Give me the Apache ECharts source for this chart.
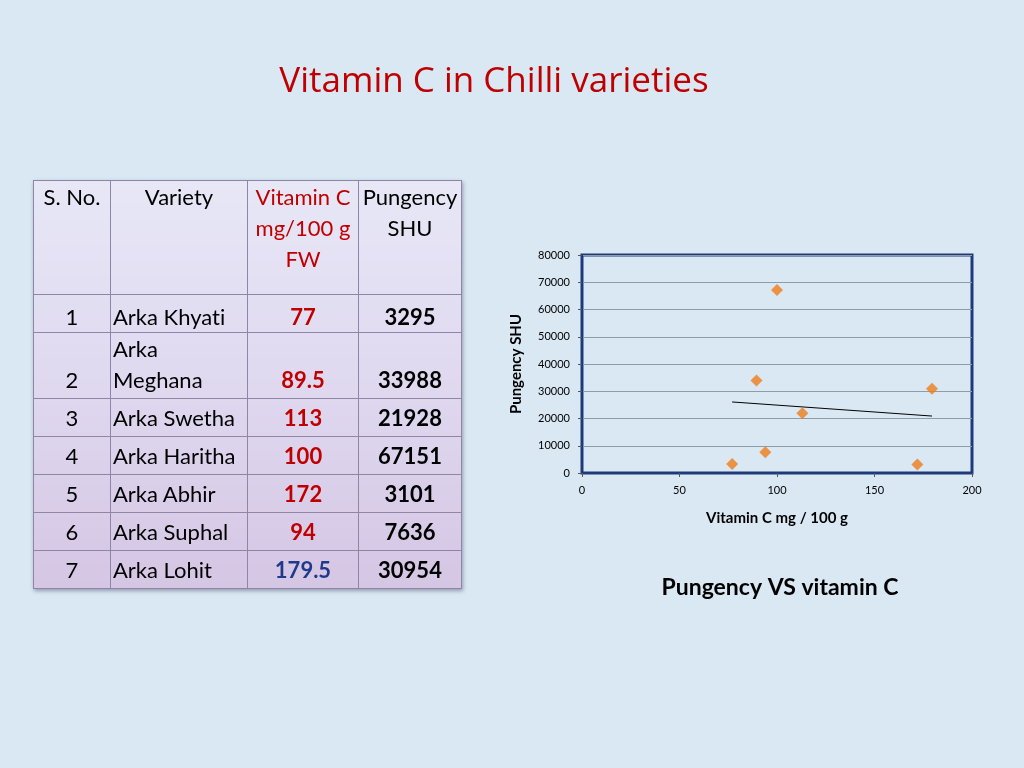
<!DOCTYPE html>
<html>
<head>
<meta charset="utf-8">
<script src="https://cdn.jsdelivr.net/npm/echarts@6/dist/echarts.min.js"></script>
<style>
  html, body { margin: 0; padding: 0; background: #DAE8F4; }
  #chart { position: absolute; left: 0; top: 0; width: 1024px; height: 768px; }
  #tbl {
    position: absolute; left: 33px; top: 180px; border-collapse: collapse;
    font-family: Lato, "Open Sans", sans-serif; font-size: 22px; color: #000;
    font-variant-ligatures: none; font-feature-settings: "liga" 0, "clig" 0;
    background: linear-gradient(to bottom, #E7E7F6 0%, #E0DAF0 45%, #D5C6E4 100%);
    box-shadow: 1px 2px 4px rgba(60,60,90,0.45);
  }
  #tbl td { border: 1.5px solid #8E86A6; padding: 0 2px 3px 2px; vertical-align: bottom; line-height: 31px; }
  #tbl tr.hdr td { vertical-align: top; padding-top: 0px; text-align: center; }
  #tbl tr.r1 td { padding-bottom: 0; }
  .c0 { text-align: center; }
  .c1 { text-align: left; }
  .c2 { text-align: center; font-weight: bold; color: #C00000; }
  .c3 { text-align: center; font-weight: bold; }
</style>
</head>
<body>
<div id="chart"></div>
<table id="tbl"></table>
<script>
// ---- data ----
const serialNos = ['1', '2', '3', '4', '5', '6', '7'];
const varieties = ['Arka Khyati', 'Arka Meghana', 'Arka Swetha', 'Arka Haritha', 'Arka Abhir', 'Arka Suphal', 'Arka Lohit'];
const vitaminC = [77, 89.5, 113, 100, 172, 94, 179.5];
const pungency = [3295, 33988, 21928, 67151, 3101, 7636, 30954];
const headers = ['S. No.', 'Variety', 'Vitamin C mg/100 g FW', 'Pungency SHU'];
const xTicks = [0, 50, 100, 150, 200];
const yTicks = [0, 10000, 20000, 30000, 40000, 50000, 60000, 70000, 80000];

// ---- table ----
const tbl = document.getElementById('tbl');
const colW = [77, 137, 111, 103];
const rowH = [114, 38, 62, 38, 38, 38, 38, 38];
let html = '<colgroup>' + colW.map(w => '<col style="width:' + w + 'px">').join('') + '</colgroup>';
html += '<tr class="hdr" style="height:' + rowH[0] + 'px">' +
  '<td>' + headers[0] + '</td>' +
  '<td>' + headers[1] + '</td>' +
  '<td style="color:#C00000">Vitamin C<br>mg/100 g<br>FW</td>' +
  '<td>Pungency<br>SHU</td></tr>';
for (let i = 0; i < varieties.length; i++) {
  const vname = varieties[i] === 'Arka Meghana' ? 'Arka<br>Meghana' : varieties[i];
  const vcStyle = i === 6 ? ' style="color:#1F3A8A"' : '';
  html += '<tr class="r' + (i + 1) + '" style="height:' + rowH[i + 1] + 'px">' +
    '<td class="c0">' + serialNos[i] + '</td>' +
    '<td class="c1">' + vname + '</td>' +
    '<td class="c2"' + vcStyle + '>' + vitaminC[i] + '</td>' +
    '<td class="c3">' + pungency[i] + '</td></tr>';
}
tbl.innerHTML = html;

// ---- trend line (least squares from data) ----
const n = vitaminC.length;
const mx = vitaminC.reduce((a, b) => a + b, 0) / n;
const my = pungency.reduce((a, b) => a + b, 0) / n;
let sxy = 0, sxx = 0;
for (let i = 0; i < n; i++) { sxy += (vitaminC[i] - mx) * (pungency[i] - my); sxx += (vitaminC[i] - mx) ** 2; }
const slope = sxy / sxx, icpt = my - slope * mx;
const xmin = Math.min(...vitaminC), xmax = Math.max(...vitaminC);
const trend = [[xmin, icpt + slope * xmin], [xmax, icpt + slope * xmax]];

const chart = echarts.init(document.getElementById('chart'));
const fontF = 'Lato, "Open Sans", sans-serif';
chart.setOption({
  backgroundColor: '#DAE8F4',
  animation: false,
  textStyle: { fontFamily: fontF },
  title: [
    { text: 'Vitamin C in Chilli varieties', left: 489, top: 60, textAlign: 'center',
      textStyle: { color: '#C00000', fontSize: 35, fontWeight: 'normal', fontFamily: '"Open Sans", sans-serif' } },
    { text: 'Pungency VS vitamin C', left: 775, top: 571, textAlign: 'center',
      textStyle: { color: '#000', fontSize: 23, fontWeight: 'bold', fontFamily: fontF } }
  ],
  grid: { left: 582, top: 255, width: 390, height: 218, show: true, borderColor: '#1F3A7A', borderWidth: 3, backgroundColor: 'transparent' },
  xAxis: {
    type: 'value', min: xTicks[0], max: xTicks[xTicks.length - 1], interval: 50,
    name: 'Vitamin C mg / 100 g', nameLocation: 'middle', nameGap: 38,
    nameTextStyle: { fontSize: 15, fontWeight: 'bold', color: '#000' },
    axisLine: { show: true, lineStyle: { color: '#1F3A7A', width: 1 } },
    axisTick: { show: true, length: 4, lineStyle: { color: '#555' } },
    axisLabel: { fontSize: 11, color: '#000', margin: 12 },
    splitLine: { show: false }
  },
  yAxis: {
    type: 'value', min: yTicks[0], max: yTicks[yTicks.length - 1], interval: 10000,
    name: 'Pungency SHU', nameLocation: 'middle', nameGap: 58,
    nameTextStyle: { fontSize: 15, fontWeight: 'bold', color: '#000' },
    axisLine: { show: true, lineStyle: { color: '#1F3A7A', width: 1 } },
    axisTick: { show: true, length: 4, lineStyle: { color: '#555' } },
    axisLabel: { fontSize: 11, color: '#000', margin: 12, formatter: v => String(v) },
    splitLine: { show: true, lineStyle: { color: '#8E9BA8', width: 1 } }
  },
  series: [
    { type: 'line', data: trend, symbol: 'none', lineStyle: { color: '#000', width: 1 }, silent: true, z: 2 },
    { type: 'scatter', data: vitaminC.map((v, i) => [v, pungency[i]]), symbol: 'diamond', symbolSize: 12,
      itemStyle: { color: '#EE7D1A' }, z: 3 }
  ]
});
</script>
</body>
</html>
